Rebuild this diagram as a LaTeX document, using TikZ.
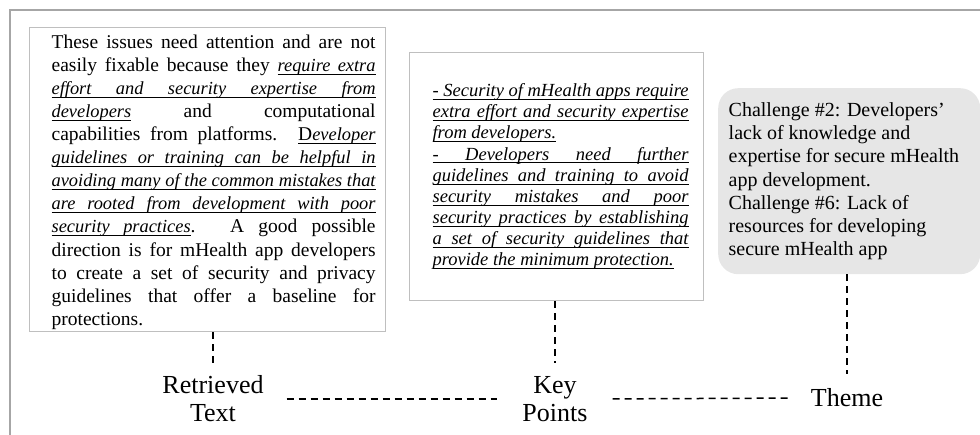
\documentclass[tikz,border=0pt]{standalone}
\usepackage{fontspec}
\setmainfont{Liberation Serif}
\definecolor{boxgray}{HTML}{BFBFBF}
\definecolor{framegray}{HTML}{A6A6A6}
\definecolor{themegray}{HTML}{E6E6E6}
\makeatletter
\def\ULword#1{\setbox0\hbox{#1}\leavevmode\rlap{\vrule height -2.4pt depth 3.3pt width\wd0}\box0 }
\def\ULspace{\leaders\hrule height -2.4pt depth 3.3pt\hskip\fontdimen2\font plus\fontdimen3\font minus\fontdimen4\font}
\def\UL#1{\ULloop#1 \ULend}
\def\ULloop#1 #2\ULend{\ULword{#1}\ifx\relax#2\relax\else\ULspace\ULloop#2\ULend\fi}
\makeatother
\newcommand\lit{\fontsize{18.4}{23.1}\selectfont\itshape}
\tikzset{
  txtbox/.style={draw=boxgray, line width=1.2pt, inner sep=0pt, anchor=north west},
  themebox/.style={fill=themegray, rounded corners=20pt, inner sep=0pt, anchor=north west},
  lbl/.style={align=center, font=\fontsize{26}{28}\selectfont, inner sep=2pt},
  link/.style={line width=1.5pt, dash pattern=on 7pt off 5pt},
  framebar/.style={draw=framegray, line width=2pt}
}
\begin{document}
\begin{tikzpicture}[x=1pt,y=-1pt]
\useasboundingbox (0,0) rectangle (980,435);
\draw[framebar] (10,435) -- (10,10) -- (980,10);

\node[txtbox, minimum width=356pt, minimum height=304pt] (rt) at (29,27)
{\hspace*{12pt}\begin{minipage}{324pt}\vspace*{5pt}\fontsize{19.5}{23.1}\selectfont
These issues need attention and are not\linebreak
easily fixable because they {\lit\UL{require extra}}\linebreak
{\lit\UL{effort and security expertise from}}\linebreak
{\lit\UL{developers}} and computational\linebreak
capabilities from platforms. \UL{D{\lit eveloper}}\linebreak
{\lit\UL{guidelines or training can be helpful in}}\linebreak
{\lit\UL{avoiding many of the common mistakes that}}\linebreak
{\lit\UL{are rooted from development with poor}}\linebreak
{\lit\UL{security practices}}. A good possible\linebreak
direction is for mHealth app developers\linebreak
to create a set of security and privacy\linebreak
guidelines that offer a baseline for\linebreak
protections.
\end{minipage}};

\node[txtbox, minimum width=294pt, minimum height=248pt] (kb) at (409,52)
{\hspace*{8pt}\begin{minipage}{256pt}\fontsize{18.5}{21.1}\selectfont\itshape
\UL{- Security of mHealth apps require}\linebreak
\UL{extra effort and security expertise}\linebreak
\UL{from developers.}\par
\UL{- Developers need further}\linebreak
\UL{guidelines and training to avoid}\linebreak
\UL{security mistakes and poor}\linebreak
\UL{security practices by establishing}\linebreak
\UL{a set of security guidelines that}\linebreak
\UL{provide the minimum protection.}
\end{minipage}};

\node[themebox, minimum width=262pt, minimum height=186pt] (tb) at (718,88)
{\hspace*{4pt}\begin{minipage}{245pt}\fontsize{20}{23.3}\selectfont\raggedright
Challenge \#2: Developers'\\
lack of knowledge and\\
expertise for secure mHealth\\
app development.\\
Challenge \#6: Lack of\\
resources for developing\\
secure mHealth app
\end{minipage}};

\node[lbl] (rtl) at (213,399) {Retrieved\\Text};
\node[lbl] (kp) at (555,399) {Key\\Points};
\node[lbl] (th) at (847,398) {Theme};

\draw[link, shorten >=6pt] (rt.south -| rtl.north) -- (rtl.north);
\draw[link, shorten >=11pt] (kb.south -| kp.north) -- (kp.north);
\draw[link, shorten >=13pt] (tb.south -| th.north) -- (th.north);
\draw[link, shorten <=21pt, shorten >=23pt] (rtl.east) -- (kp.west);
\draw[link, shorten <=23pt, shorten >=17pt] (kp.east) -- (th.west);
\end{tikzpicture}
\end{document}
